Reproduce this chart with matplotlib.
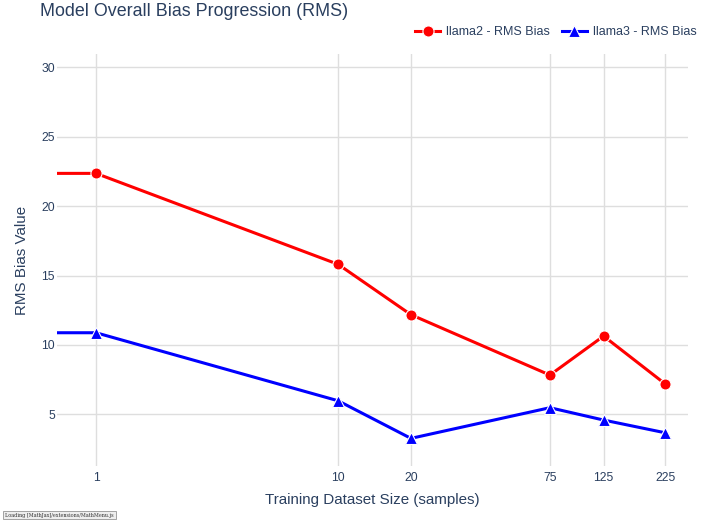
import matplotlib.pyplot as plt
from matplotlib.lines import Line2D

plt.rcParams['font.family'] = ['Liberation Sans', 'DejaVu Sans']

# Data
sample_sizes = [0.5, 1, 10, 20, 75, 125, 225]
llama2_rms = [22.36, 22.36, 15.81, 12.18, 7.83, 10.64, 7.18]
llama3_rms = [10.88, 10.88, 5.98, 3.27, 5.48, 4.59, 3.67]
tick_values = [1, 10, 20, 75, 125, 225]
tick_labels = ['1', '10', '20', '75', '125', '225']
y_ticks = [5, 10, 15, 20, 25, 30]

text_color = '#2a3f5f'
grid_color = '#dedede'

fig = plt.figure(figsize=(7.01, 5.2), dpi=100)
ax = fig.add_axes([57 / 701, 1 - 466 / 520, 631 / 701, 412 / 520])

ax.plot(sample_sizes, llama2_rms, color='red', linewidth=2.2, marker='o',
        markersize=8, markeredgecolor='white', markeredgewidth=0.8, zorder=3)
ax.plot(sample_sizes, llama3_rms, color='blue', linewidth=2.2, marker='^',
        markersize=8, markeredgecolor='white', markeredgewidth=0.8, zorder=3)

ax.set_xscale('log')
ax.set_xlim(0.69, 279)
ax.set_ylim(1.28, 30.96)
ax.set_xticks(tick_values)
ax.set_xticklabels(tick_labels)
ax.minorticks_off()
ax.set_yticks(y_ticks)

ax.grid(True, color=grid_color, linewidth=1)
ax.set_axisbelow(True)
for s in ax.spines.values():
    s.set_visible(False)
ax.tick_params(length=0, labelsize=8.7, labelcolor=text_color)
ax.tick_params(axis='x', pad=4)
ax.tick_params(axis='y', pad=1.5)

ax.set_xlabel('Training Dataset Size (samples)', fontsize=10.9,
              color=text_color, labelpad=7)
ax.set_ylabel('RMS Bias Value', fontsize=10.9, color=text_color, labelpad=9)

fig.text(40 / 701, 1 - 12 / 520, 'Model Overall Bias Progression (RMS)',
         fontsize=12.9, color=text_color, va='center', ha='left')

handles = [
    Line2D([], [], color='red', linewidth=2.2, marker='o', markersize=8,
           markeredgecolor='white', markeredgewidth=0.8),
    Line2D([], [], color='blue', linewidth=2.2, marker='^', markersize=8,
           markeredgecolor='white', markeredgewidth=0.8),
]
leg = fig.legend(handles, ['llama2 - RMS Bias', 'llama3 - RMS Bias'],
                 loc='center right', bbox_to_anchor=(704 / 701, 1 - 32 / 520),
                 ncol=2, frameon=False, fontsize=9.0, handlelength=2.0,
                 handletextpad=0.5, columnspacing=0.9, borderpad=0.1)
for t in leg.get_texts():
    t.set_color(text_color)

fig.text(5 / 701, 1 - 515 / 520, 'Loading [MathJax]/extensions/MathMenu.js',
         fontsize=3.5, family='DejaVu Serif', color='#333333', va='center',
         bbox=dict(boxstyle='square,pad=0.4', facecolor='#eeeeee',
                   edgecolor='#959595', linewidth=0.6))

fig.savefig('out.png', dpi=100)
